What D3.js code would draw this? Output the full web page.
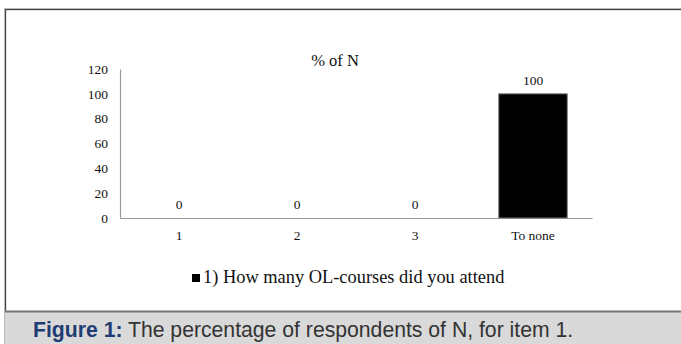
<!DOCTYPE html>
<html>
<head>
<meta charset="utf-8">
<script src="https://cdn.jsdelivr.net/npm/d3@7"></script>
<style>
  html, body { margin: 0; padding: 0; background: #fff; }
  svg { display: block; }
</style>
</head>
<body>
<svg id="chart" width="681" height="344"></svg>
<script>
// ——— Data ———
const categories = ['1', '2', '3', 'To none'];
const values = [0, 0, 0, 100];
const yTicks = [0, 20, 40, 60, 80, 100, 120];
const chartTitle = '% of N';
const legendLabel = '1) How many OL-courses did you attend';
const captionBold = 'Figure 1:';
const captionText = ' The percentage of respondents of N, for item 1.';

const svg = d3.select('#chart');
const serif = '"Liberation Serif", "Times New Roman", serif';
const sans = '"Liberation Sans", Arial, sans-serif';

// ——— Frame ———
svg.append('rect')
    .attr('x', 4.5).attr('y', 8.5).attr('width', 700).attr('height', 400)
    .attr('fill', 'none').attr('stroke', '#d0d0d0').attr('stroke-width', 1);
svg.append('rect')
    .attr('x', 5.5).attr('y', 9.5).attr('width', 700).attr('height', 400)
    .attr('fill', '#fff').attr('stroke', '#444').attr('stroke-width', 1.3);

// ——— Scales ———
const x = d3.scaleBand()
    .domain(categories)
    .range([120, 592])
    .paddingInner(0.42)
    .paddingOuter(0.21);

const y = d3.scaleLinear()
    .domain([0, 120])
    .range([218, 69]);

// ——— Axes ———
const yAxis = svg.append('g')
    .attr('transform', 'translate(120,0)')
    .call(d3.axisLeft(y).tickValues(yTicks).tickSize(0).tickPadding(12));
yAxis.select('.domain').attr('stroke', '#9a9a9a').attr('stroke-width', 1.2);
yAxis.selectAll('text')
    .attr('font-family', serif).attr('font-size', 13.5).attr('fill', '#111');

const xAxis = svg.append('g')
    .attr('transform', 'translate(0,218)')
    .call(d3.axisBottom(x).tickSize(0).tickPadding(12));
xAxis.select('.domain').attr('stroke', '#9a9a9a').attr('stroke-width', 1.2);
xAxis.selectAll('text')
    .attr('font-family', serif).attr('font-size', 13.5).attr('fill', '#111');

// ——— Bars ———
svg.append('g')
    .selectAll('rect')
    .data(values)
    .join('rect')
    .attr('x', (d, i) => x(categories[i]))
    .attr('y', d => y(d))
    .attr('width', x.bandwidth())
    .attr('height', d => y(0) - y(d))
    .attr('fill', '#000')
    .attr('stroke', d => d > 0 ? '#777' : 'none')
    .attr('stroke-width', 1);

// value labels
svg.append('g')
    .selectAll('text')
    .data(values)
    .join('text')
    .attr('x', (d, i) => x(categories[i]) + x.bandwidth() / 2)
    .attr('y', d => y(d) - 9)
    .attr('text-anchor', 'middle')
    .attr('font-family', serif).attr('font-size', 13.5).attr('fill', '#111')
    .text(d => d);

// ——— Title ———
svg.append('text')
    .attr('x', 335).attr('y', 66)
    .attr('text-anchor', 'middle')
    .attr('font-family', serif).attr('font-size', 16.5).attr('fill', '#111')
    .text(chartTitle);

// ——— Legend ———
svg.append('rect')
    .attr('x', 192).attr('y', 274).attr('width', 8).attr('height', 8)
    .attr('fill', '#000');
svg.append('text')
    .attr('x', 203).attr('y', 283)
    .attr('font-family', serif).attr('font-size', 18.4).attr('fill', '#111')
    .text(legendLabel);

// ——— Caption band ———
svg.append('rect')
    .attr('x', 5).attr('y', 312).attr('width', 676).attr('height', 32)
    .attr('fill', '#d9d9d9');
svg.append('line')
    .attr('x1', 5).attr('x2', 681).attr('y1', 311.5).attr('y2', 311.5)
    .attr('stroke', '#777').attr('stroke-width', 2);

const cap = svg.append('text')
    .attr('x', 33).attr('y', 337)
    .attr('font-family', sans).attr('font-size', 21.2);
cap.append('tspan').attr('font-weight', 'bold').attr('fill', '#1f3c73').text(captionBold);
cap.append('tspan').attr('fill', '#333').text(captionText);
</script>
</body>
</html>
